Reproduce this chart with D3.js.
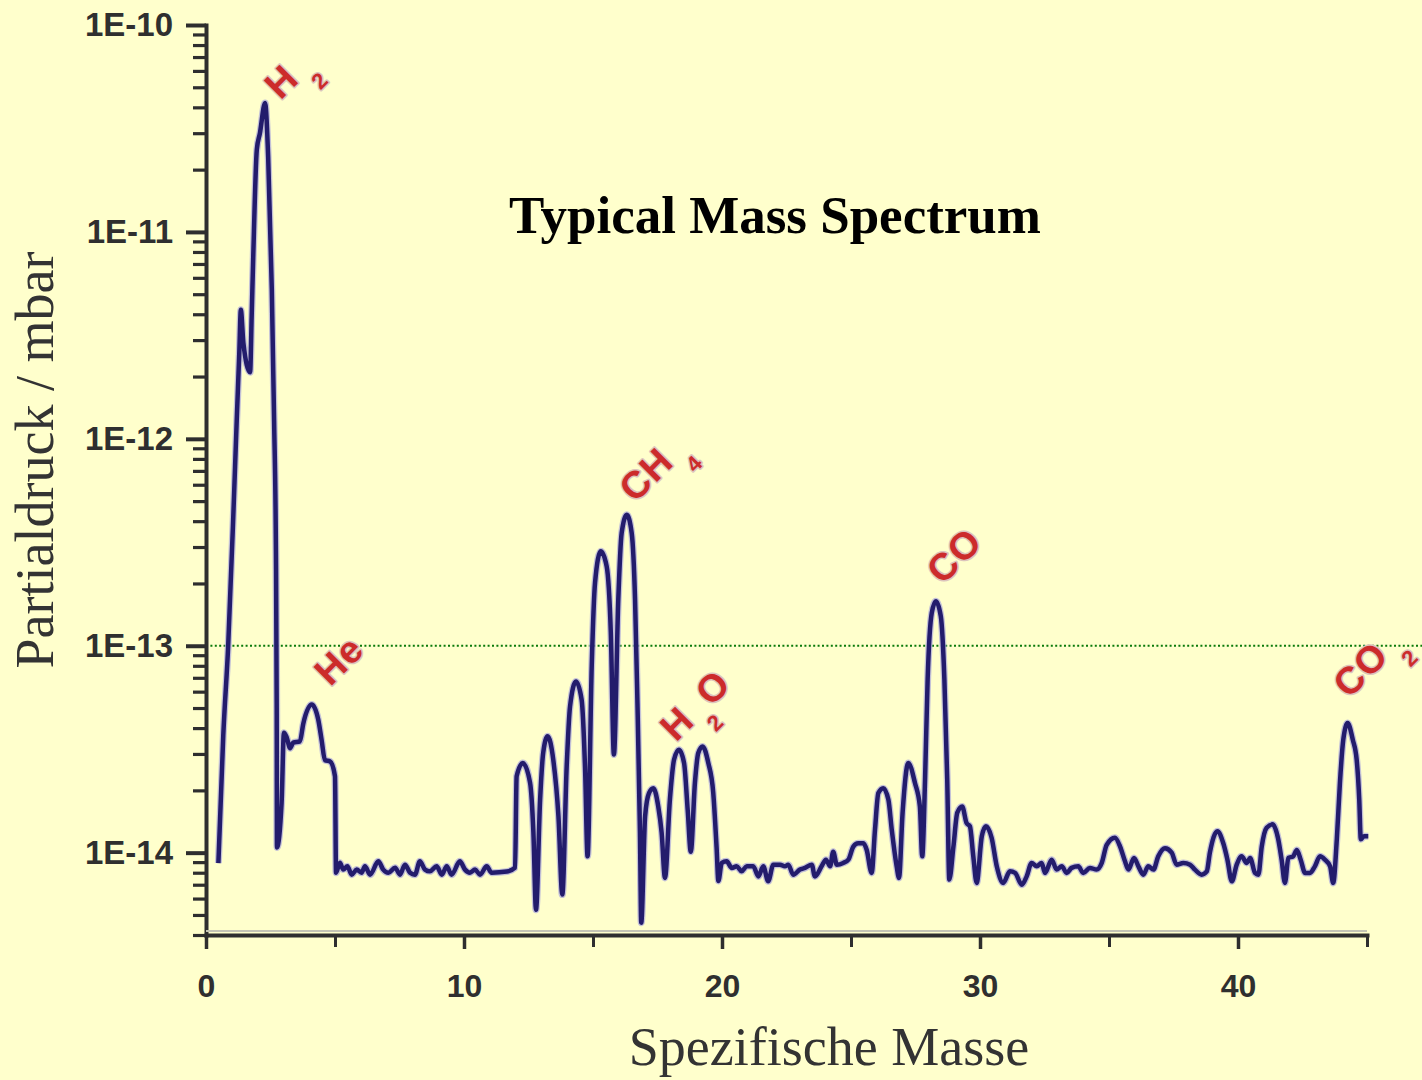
<!DOCTYPE html>
<html>
<head>
<meta charset="utf-8">
<script src="https://cdn.jsdelivr.net/npm/d3@7"></script>
<style>
  html, body { margin: 0; padding: 0; background: #FFFFCC; }
  svg { display: block; }
</style>
</head>
<body>
<svg id="chart" width="1422" height="1080"></svg>
<script>
// Spectrum trace: specific mass (amu/e) and partial pressure (mbar)
const mass = [
  0.48,0.67,0.86,1.06,1.19,1.29,1.35,1.45,1.71,1.77,1.83,1.97,2.09,2.29,2.41,2.55,2.64,2.71,2.74,2.75,
  2.93,3.02,3.13,3.26,3.38,3.64,3.77,4.10,4.35,4.48,4.61,4.81,5.00,5.04,
  5.19,5.32,5.48,5.65,5.84,6.03,6.16,6.36,6.68,6.87,7.07,7.33,7.52,7.71,7.91,8.10,
  8.29,8.49,8.68,8.94,9.14,9.33,9.52,9.84,10.04,10.23,10.43,10.62,10.88,11.07,11.66,11.98,
  12.04,12.28,12.56,12.69,12.79,12.95,13.07,13.24,13.46,13.66,13.81,13.98,14.11,14.34,14.56,14.69,14.79,14.95,
  15.08,15.30,15.53,15.69,15.81,15.98,16.11,16.31,16.50,16.63,16.72,16.82,16.87,17.02,17.17,17.34,17.53,17.66,
  17.79,17.98,18.14,18.33,18.53,18.67,18.79,18.95,19.08,19.25,19.47,19.66,19.79,19.86,
  19.99,20.18,20.38,20.57,20.76,20.96,21.21,21.41,21.60,21.79,21.99,22.25,22.44,22.57,22.76,23.02,23.22,23.48,
  23.60,23.86,24.03,24.19,24.31,24.45,24.70,24.90,25.09,25.28,25.48,25.61,25.80,25.93,26.06,26.25,26.45,26.58,
  26.77,26.86,27.00,27.22,27.48,27.67,27.76,27.87,27.97,28.13,28.29,28.48,28.62,28.73,28.81,28.97,29.12,29.31,
  29.48,29.61,29.74,29.87,30.07,30.23,30.45,30.65,
  30.90,31.16,31.36,31.62,31.81,32.00,32.20,32.39,32.52,32.78,32.97,33.17,33.36,33.55,33.81,34.00,34.26,34.52,
  34.72,34.91,35.23,35.43,35.62,35.75,35.97,36.14,36.33,36.52,36.72,36.91,37.17,37.43,37.62,37.88,38.14,38.33,
  38.59,38.79,38.91,39.20,39.43,39.59,39.76,39.95,40.14,40.34,40.47,40.66,40.79,40.92,41.11,41.34,41.56,41.69,
  41.82,41.95,42.14,42.28,42.43,42.60,42.79,42.98,43.18,43.37,43.57,43.69,43.83,43.95,44.08,44.25,44.45,44.60,
  44.70,44.76,44.88,45.05
];

const pressure = [
  8.9e-15,3.7e-14,1.0e-13,4.3e-13,1.22e-12,2.6e-12,4.2e-12,2.9e-12,2.1e-12,3.9e-12,7.5e-12,2.5e-11,3.0e-11,4.2e-11,2.3e-11,5.3e-12,1.22e-12,2.9e-13,5.0e-14,1.06e-14,
  1.74e-14,3.8e-14,3.6e-14,3.2e-14,3.4e-14,3.45e-14,4.2e-14,5.2e-14,4.4e-14,3.51e-14,2.8e-14,2.76e-14,2.34e-14,8.0e-15,
  8.95e-15,8.28e-15,8.59e-15,7.83e-15,8.28e-15,8.0e-15,8.59e-15,7.83e-15,9.08e-15,8.28e-15,8.0e-15,8.46e-15,7.83e-15,8.75e-15,8.0e-15,7.83e-15,
  9.08e-15,8.28e-15,8.12e-15,8.59e-15,7.83e-15,8.59e-15,7.83e-15,9.08e-15,8.28e-15,8.0e-15,8.28e-15,7.83e-15,8.59e-15,8.0e-15,8.1e-15,8.46e-15,
  2.34e-14,2.71e-14,2.18e-14,1.25e-14,5.3e-15,1.80e-14,3.04e-14,3.65e-14,2.81e-14,1.50e-14,6.27e-15,2.61e-14,5.09e-14,6.72e-14,5.48e-14,2.61e-14,9.6e-15,7.94e-14,
  2.02e-13,2.86e-13,2.42e-13,1.16e-13,2.98e-14,1.67e-13,3.50e-13,4.30e-13,3.50e-13,1.67e-13,5.48e-14,1.25e-14,4.59e-15,1.50e-14,1.94e-14,2.05e-14,1.67e-14,1.25e-14,
  7.55e-15,1.80e-14,2.81e-14,3.14e-14,2.71e-14,1.61e-14,1.01e-14,2.17e-14,3.03e-14,3.26e-14,2.71e-14,1.95e-14,1.06e-14,7.3e-15,
  8.92e-15,9.08e-15,8.44e-15,8.59e-15,8.12e-15,8.59e-15,8.59e-15,7.68e-15,8.59e-15,7.27e-15,8.75e-15,8.75e-15,8.59e-15,8.75e-15,7.83e-15,8.28e-15,8.44e-15,8.75e-15,
  7.68e-15,8.59e-15,9.25e-15,8.59e-15,1.01e-14,8.75e-15,8.92e-15,9.25e-15,1.07e-14,1.11e-14,1.11e-14,1.03e-14,7.98e-15,1.29e-14,1.94e-14,2.05e-14,1.80e-14,1.29e-14,
  8.59e-15,7.55e-15,1.56e-14,2.71e-14,2.17e-14,1.67e-14,9.6e-15,2.25e-14,6.85e-14,1.44e-13,1.64e-13,1.39e-13,6.85e-14,2.25e-14,7.41e-15,1.07e-14,1.56e-14,1.67e-14,
  1.39e-14,1.34e-14,9.6e-15,7.14e-15,1.20e-14,1.34e-14,1.18e-14,8.59e-15,
  7.14e-15,8.12e-15,7.98e-15,7.0e-15,7.68e-15,8.92e-15,8.59e-15,8.92e-15,7.98e-15,9.25e-15,8.28e-15,8.59e-15,7.98e-15,8.44e-15,8.59e-15,7.98e-15,8.44e-15,8.28e-15,
  8.92e-15,1.09e-14,1.18e-14,1.07e-14,9.08e-15,8.28e-15,9.43e-15,8.59e-15,7.83e-15,8.59e-15,8.28e-15,9.6e-15,1.05e-14,1.0e-14,8.75e-15,8.92e-15,8.75e-15,8.28e-15,
  7.83e-15,8.12e-15,1.0e-14,1.27e-14,1.11e-14,9.25e-15,7.27e-15,8.75e-15,9.6e-15,8.92e-15,9.43e-15,7.98e-15,7.83e-15,1.07e-14,1.32e-14,1.37e-14,1.16e-14,9.25e-15,
  7.14e-15,9.43e-15,9.6e-15,1.03e-14,9.25e-15,7.98e-15,7.98e-15,8.59e-15,9.6e-15,9.25e-15,8.59e-15,7.14e-15,1.16e-14,2.17e-14,3.51e-14,4.23e-14,3.51e-14,2.81e-14,
  1.80e-14,1.16e-14,1.20e-14,1.20e-14
];

// Axis ticks
const yMajorTicks = [1e-14, 1e-13, 1e-12, 1e-11, 1e-10];
const yTickLabels = ["1E-14", "1E-13", "1E-12", "1E-11", "1E-10"];
const xMajorTicks = [0, 10, 20, 30, 40];
const xMinorTicks = [5, 15, 25, 35, 45];
const refPressure = 1e-13;

// Species annotations: text pieces ([text, isSubscript]) and anchor in data space
const labelParts = [
  [["H", 0], ["2", 1]],
  [["He", 0]],
  [["CH", 0], ["4", 1]],
  [["H", 0], ["2", 1], ["O", 0]],
  [["CO", 0]],
  [["CO", 0], ["2", 1]]
];
const labelMass = [2.89, 4.82, 16.63, 18.22, 28.55, 44.30];
const labelPressure = [4.3e-11, 6.3e-14, 4.85e-13, 3.4e-14, 1.95e-13, 5.5e-14];

const svg = d3.select("#chart");
const W = 1422, H = 1080;
svg.append("rect").attr("width", W).attr("height", H).attr("fill", "#FFFFCC");

const x = d3.scaleLinear().domain([0, 45]).range([206, 1367]);
const y = d3.scaleLog().domain([4e-15, 1e-10]).range([935, 25]);

const axisColor = "#2e2e2e";

// Reference line at 1E-13
svg.append("line")
  .attr("x1", x(0)).attr("x2", W)
  .attr("y1", y(refPressure)).attr("y2", y(refPressure))
  .attr("stroke", "#0a7a0a").attr("stroke-width", 2)
  .attr("stroke-dasharray", "2,2.4");

// Spectrum
const pts = mass.map((m, i) => [m, pressure[i]]);
const line = d3.line()
  .x(d => x(d[0]))
  .y(d => y(d[1]))
  .curve(d3.curveMonotoneX);

svg.append("path").datum(pts)
  .attr("d", line)
  .attr("fill", "none")
  .attr("stroke", "#aaa6dc")
  .attr("stroke-opacity", 0.7)
  .attr("stroke-width", 7)
  .attr("stroke-linejoin", "round");
svg.append("path").datum(pts)
  .attr("d", line)
  .attr("fill", "none")
  .attr("stroke", "#231c6c")
  .attr("stroke-width", 4.5)
  .attr("stroke-linejoin", "round");

// Y axis (log)
const yMinorTicks = y.ticks().filter(t => !yMajorTicks.some(m => Math.abs(t - m) / m < 1e-6));
const gyMinor = svg.append("g").attr("transform", `translate(${x(0)},0)`)
  .call(d3.axisLeft(y).tickValues(yMinorTicks).tickSize(13).tickFormat(""));
gyMinor.select(".domain").remove();
gyMinor.selectAll(".tick line").attr("stroke", axisColor).attr("stroke-width", 3.2);

const gy = svg.append("g").attr("transform", `translate(${x(0)},0)`)
  .call(d3.axisLeft(y).tickValues(yMajorTicks).tickSize(20).tickSizeOuter(0).tickPadding(13)
    .tickFormat((d, i) => yTickLabels[i]));
gy.select(".domain").attr("stroke", axisColor).attr("stroke-width", 4).attr("stroke-linecap", "square");
gy.selectAll(".tick line").attr("stroke", axisColor).attr("stroke-width", 4);
gy.selectAll(".tick text")
  .attr("fill", "#2f2f2f")
  .style("font-family", "'Liberation Sans', Arial, sans-serif")
  .style("font-weight", "bold")
  .style("font-size", "33px");

// X axis
svg.append("line")
  .attr("x1", x(0)).attr("x2", x(45))
  .attr("y1", 931).attr("y2", 931)
  .attr("stroke", "#c4c4b4").attr("stroke-width", 2);

const gxMinor = svg.append("g").attr("transform", `translate(0,${y(4e-15)})`)
  .call(d3.axisBottom(x).tickValues(xMinorTicks).tickSize(12).tickFormat(""));
gxMinor.select(".domain").remove();
gxMinor.selectAll(".tick line").attr("stroke", axisColor).attr("stroke-width", 3);

const gx = svg.append("g").attr("transform", `translate(0,${y(4e-15)})`)
  .call(d3.axisBottom(x).tickValues(xMajorTicks).tickSize(14).tickSizeOuter(0).tickPadding(25)
    .tickFormat(d3.format("d")));
gx.select(".domain").attr("stroke", axisColor).attr("stroke-width", 4).attr("stroke-linecap", "square");
gx.selectAll(".tick line").attr("stroke", axisColor).attr("stroke-width", 3.5);
gx.selectAll(".tick text")
  .attr("fill", "#2f2f2f")
  .style("font-family", "'Liberation Sans', Arial, sans-serif")
  .style("font-weight", "bold")
  .style("font-size", "32px");

// Titles
svg.append("text")
  .attr("x", 775).attr("y", 233)
  .attr("text-anchor", "middle")
  .style("font-family", "'Liberation Serif', 'Times New Roman', serif")
  .style("font-weight", "bold")
  .style("font-size", "53px")
  .attr("fill", "#000")
  .text("Typical Mass Spectrum");

svg.append("text")
  .attr("x", 829).attr("y", 1065)
  .attr("text-anchor", "middle")
  .style("font-family", "'Liberation Serif', 'Times New Roman', serif")
  .style("font-size", "54px")
  .attr("fill", "#333")
  .text("Spezifische Masse");

svg.append("text")
  .attr("transform", "translate(53,460) rotate(-90)")
  .attr("text-anchor", "middle")
  .style("font-family", "'Liberation Serif', 'Times New Roman', serif")
  .style("font-size", "54px")
  .attr("fill", "#333")
  .text("Partialdruck / mbar");

// Species labels, written at 45 degrees
labelParts.forEach((parts, i) => {
  const t = svg.append("text")
    .attr("transform", `translate(${x(labelMass[i])},${y(labelPressure[i])}) rotate(-45)`)
    .style("font-family", "'Liberation Sans', Arial, sans-serif")
    .style("font-weight", "bold")
    .attr("fill", "#cc2b2b")
    .attr("stroke", "#dcc4bc")
    .attr("stroke-width", 3)
    .attr("paint-order", "stroke")
    .attr("stroke-linejoin", "round");
  let lowered = false;
  parts.forEach(([txt, sub]) => {
    const ts = t.append("tspan").text(txt);
    if (sub) {
      ts.style("font-size", "22px").attr("dx", 7).attr("dy", 21);
      lowered = true;
    } else {
      ts.style("font-size", "38px").style("letter-spacing", "1px");
      if (lowered) { ts.attr("dx", 2).attr("dy", -21); lowered = false; }
    }
  });
});
</script>
</body>
</html>
